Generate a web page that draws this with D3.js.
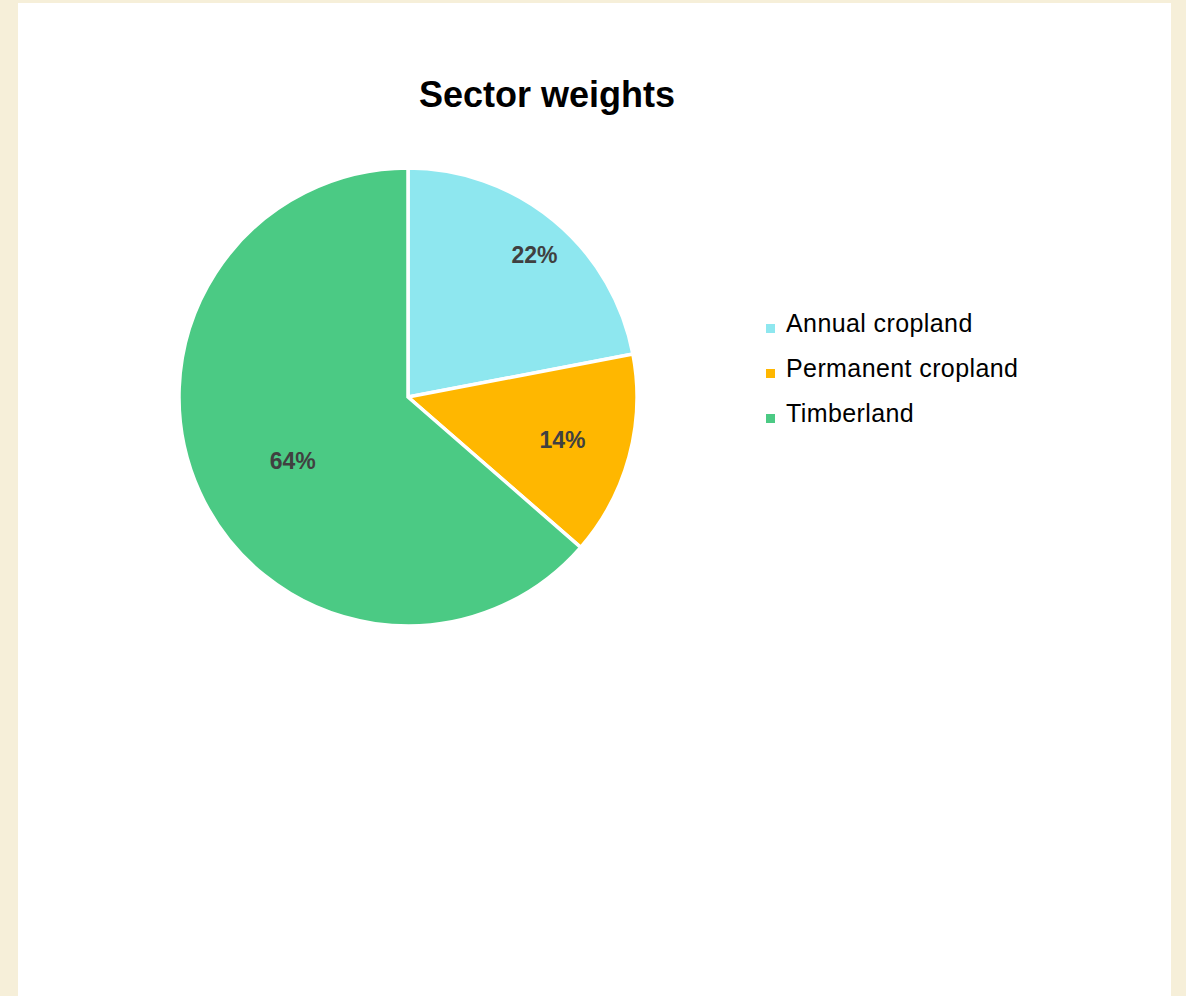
<!DOCTYPE html>
<html>
<head>
<meta charset="utf-8">
<script src="https://cdn.jsdelivr.net/npm/d3@7"></script>
<style>
  html, body { margin: 0; padding: 0; background: #f6efd9; }
  svg { display: block; }
</style>
</head>
<body>
<svg id="chart" width="1186" height="996"></svg>
<script>
// ---- data ----
const categories = ["Annual cropland", "Permanent cropland", "Timberland"];
const values = [22.0, 14.4, 63.6];
const colors = ["#8ee7ef", "#ffb700", "#4bca84"];
const title = "Sector weights";

// ---- layout ----
const W = 1186, H = 996;
const cx = 408, cy = 397, R = 229;
const labelRadiusFactor = [0.83, 0.70, 0.576];
const labelAngleShiftDeg = [2.1, 0.3, -4.6];

const svg = d3.select("#chart");

// panel
svg.append("rect").attr("x", 18).attr("y", 3).attr("width", 1153).attr("height", H)
  .attr("fill", "#ffffff");

// title
svg.append("text")
  .attr("x", 547).attr("y", 107)
  .attr("text-anchor", "middle")
  .attr("font-family", "Liberation Sans, Arial, sans-serif")
  .attr("font-weight", "bold")
  .attr("font-size", 36)
  .attr("fill", "#000")
  .text(title);

const data = categories.map((c, i) => ({ name: c, value: values[i], color: colors[i], i }));
const total = d3.sum(values);

const pie = d3.pie().sort(null).value(d => d.value);
const arcs = pie(data);
const arc = d3.arc().innerRadius(0).outerRadius(R);

const g = svg.append("g").attr("transform", `translate(${cx},${cy})`);

g.selectAll("path.slice").data(arcs).enter().append("path")
  .attr("class", "slice")
  .attr("d", arc)
  .attr("fill", d => d.data.color)
  .attr("stroke", "#ffffff")
  .attr("stroke-width", 3.5)
  .attr("stroke-linejoin", "miter");

const fmt = d3.format(".0%");
g.selectAll("text.lbl").data(arcs).enter().append("text")
  .attr("class", "lbl")
  .attr("transform", d => {
    const rr = R * labelRadiusFactor[d.index];
    const a = (d.startAngle + d.endAngle) / 2 + labelAngleShiftDeg[d.index] * Math.PI / 180;
    const x = rr * Math.sin(a), y = -rr * Math.cos(a);
    return `translate(${x},${y})`;
  })
  .attr("text-anchor", "middle")
  .attr("dy", "0.36em")
  .attr("font-family", "Liberation Sans, Arial, sans-serif")
  .attr("font-weight", "bold")
  .attr("font-size", 23)
  .attr("fill", "#404040")
  .text(d => fmt(d.data.value / total));

// legend
const legend = svg.append("g").attr("transform", "translate(766,0)");
const ly = d3.scalePoint().domain(categories).range([333, 423]);
const items = legend.selectAll("g.item").data(data).enter().append("g")
  .attr("class", "item")
  .attr("transform", d => `translate(0,${ly(d.name)})`);
items.append("rect")
  .attr("x", 0).attr("y", -9).attr("width", 9).attr("height", 9)
  .attr("fill", d => d.color);
items.append("text")
  .attr("x", 20).attr("y", -1)
  .attr("font-family", "Liberation Sans, Arial, sans-serif")
  .attr("font-size", 25)
  .attr("letter-spacing", 0.4)
  .attr("fill", "#000")
  .text(d => d.name);
</script>
</body>
</html>
